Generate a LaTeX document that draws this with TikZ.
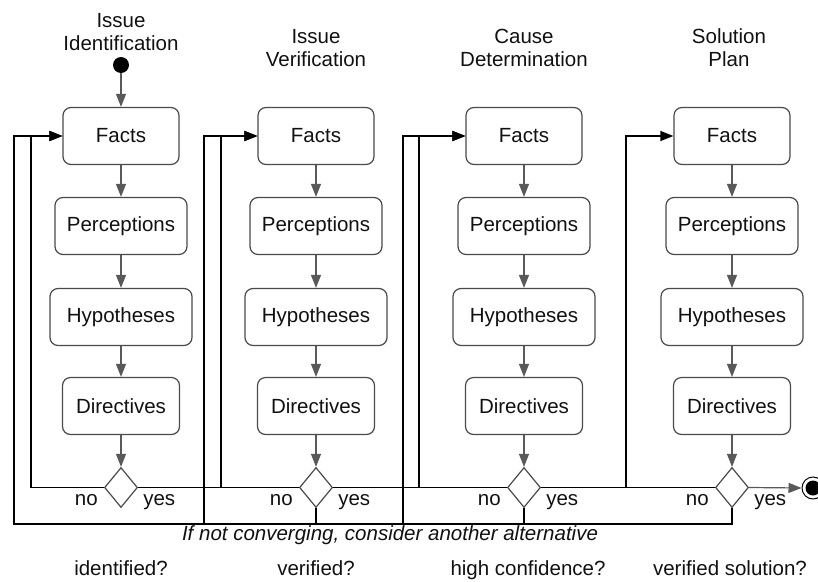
\documentclass[tikz,border=0pt]{standalone}
\usepackage{fontspec}
\setmainfont{Liberation Sans}
\usetikzlibrary{shapes.geometric,arrows.meta}

\definecolor{boxline}{HTML}{4A4A4A}
\definecolor{flowline}{HTML}{595959}
\definecolor{txt}{HTML}{111111}

\begin{document}
\begin{tikzpicture}[x=1pt,y=-1pt,
  font=\fontsize{20.5}{24}\selectfont, text=txt,
  stage/.style={draw=boxline, line width=1.2pt, rounded corners=8pt, fill=white,
    minimum height=57pt, inner sep=0pt},
  decision/.style={draw=boxline, line width=1.2pt, diamond, fill=white,
    minimum width=33pt, minimum height=40pt, inner sep=0pt},
  flow/.style={draw=flowline, line width=1.2pt, -{Triangle[length=13pt,width=10pt]}},
  back/.style={draw=black, line width=1.2pt},
  backarrow/.style={back, -{Triangle[length=13pt,width=10pt]}},
  lbl/.style={inner sep=0pt},
]
\path[use as bounding box] (0,0) rectangle (818,581);
\clip (0,0) rectangle (818,581);

% stage columns
\foreach \i/\cx in {1/121, 2/316, 3/524, 4/732} {
  \node[stage, minimum width=116pt] (f\i) at (\cx,136) {Facts};
  \node[stage, minimum width=132pt] (p\i) at (\cx,226) {Perceptions};
  \node[stage, minimum width=142pt] (h\i) at (\cx,317) {Hypotheses};
  \node[stage, minimum width=117pt] (r\i) at (\cx,406) {Directives};
  \node[decision] (d\i) at (\cx,487.5) {};
  \draw[flow] (f\i) -- (p\i);
  \draw[flow] (p\i) -- (h\i);
  \draw[flow] (h\i) -- (r\i);
  \draw[flow] (r\i) -- (d\i);
  \path (d\i.west) ++(-6,17.5) node[lbl, anchor=base east] (no\i) {no};
  \path (d\i.east) ++(5,17.5) node[lbl, anchor=base west] (yes\i) {yes};
}

% column headings
\node[anchor=base] (t1a) at (121,27) {Issue};
\node[anchor=base] (t1b) at (121,50) {Identification};
\node[anchor=base] (t2a) at (316,43) {Issue};
\node[anchor=base] (t2b) at (316,66) {Verification};
\node[anchor=base] (t3a) at (524,43) {Cause};
\node[anchor=base] (t3b) at (524,66) {Determination};
\node[anchor=base] (t4a) at (729,43) {Solution};
\node[anchor=base] (t4b) at (729,66) {Plan};

% start and end
\node[circle, fill=black, minimum size=16pt, inner sep=0pt] (start) at (121,65) {};
\draw[flow] (start) -- (f1);
\node[circle, draw=black, line width=1pt, fill=white, minimum size=22pt, inner sep=0pt] (finish) at (813,488) {};
\node[circle, fill=black, minimum size=15pt, inner sep=0pt] (finishdot) at (finish) {};
\draw[flow] (d4.east) -- (finish.west);

% feedback routing points
\coordinate (o1) at (14,136);
\coordinate (i1) at (31,136);
\coordinate (o2) at (204,136);
\coordinate (i2) at (221,136);
\coordinate (o3) at (403,136);
\coordinate (i3) at (419,136);
\coordinate (i4) at (626,136);
\coordinate (bus) at (14,524);

% "no" returns and "yes" advances
\draw[backarrow] (d1.west) -| (i1) -- (f1.west);
\draw[backarrow] (d1.east) -| (i2) -- (f2.west);
\draw[back] (d2.west) -- (d2.west -| i2);
\draw[backarrow] (d2.east) -| (i3) -- (f3.west);
\draw[back] (d3.west) -- (d3.west -| i3);
\draw[backarrow] (d3.east) -| (i4) -- (f4.west);
\draw[back] (d4.west) -- (d4.west -| i4);

% alternative loop along the bottom
\draw[backarrow] (d4.south) |- (bus) -- (o1) -- (f1.west);
\draw[back] (d2.south) -- (d2.south |- bus);
\draw[back] (d3.south) -- (d3.south |- bus);
\draw[backarrow] (o2 |- bus) -- (o2) -- (f2.west);
\draw[backarrow] (o3 |- bus) -- (o3) -- (f3.west);

% captions
\node[anchor=base, font=\fontsize{20.5}{24}\selectfont\itshape] (note) at (390,540)
  {If not converging, consider another alternative};
\node[anchor=base] (q1) at (121,575) {identified?};
\node[anchor=base] (q2) at (316,575) {verified?};
\node[anchor=base] (q3) at (528,575) {high confidence?};
\node[anchor=base] (q4) at (730,575) {verified solution?};
\end{tikzpicture}
\end{document}
